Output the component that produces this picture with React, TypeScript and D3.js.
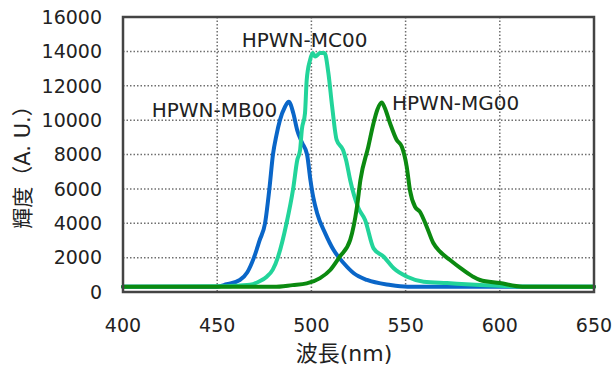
import React from "react";
import * as d3 from "d3";

const xTicks = [400, 450, 500, 550, 600, 650];
const yTicks = [0, 2000, 4000, 6000, 8000, 10000, 12000, 14000, 16000];

const mbWavelength = [400, 440, 450, 455, 462, 466, 469.5, 472.5, 475.4, 477.7, 479.6, 481.4, 483.3, 486, 488, 490.4, 492.5, 495, 497.7, 499.5, 501, 503, 507.4, 511.8, 517.2, 522.5, 529.5, 542, 551, 560, 650];
const mbIntensity = [300, 300, 310, 450, 700, 1150, 2000, 3000, 4000, 6000, 8000, 9100, 10000, 10780, 11070, 10400, 9400, 8700, 8000, 6500, 5500, 4600, 3400, 2440, 1670, 1090, 700, 410, 310, 300, 300];

const mcWavelength = [400, 455, 462, 467.4, 472, 476.3, 479.5, 482.3, 486.8, 490.3, 492.5, 494, 494.9, 496.6, 497.5, 499.3, 500.7, 502, 504.6, 507, 509, 511, 513.4, 516.8, 518.4, 520.6, 525, 528.5, 533, 538.4, 543.7, 550.8, 559.6, 572, 589.5, 611, 650];
const mcIntensity = [300, 330, 380, 420, 600, 890, 1300, 2050, 4000, 6000, 7680, 8260, 9425, 10400, 12330, 13500, 13900, 13700, 13900, 13900, 12750, 10800, 8850, 8260, 7680, 6500, 4870, 4190, 2540, 2050, 1380, 890, 600, 520, 410, 320, 300];

const mgWavelength = [400, 480, 490, 497.5, 504.6, 510, 515, 520.6, 524.2, 526, 530.2, 533, 535, 537.3, 539, 541.7, 545.3, 548, 550.6, 552.3, 555, 557.6, 561.2, 564.7, 568.3, 573.6, 579, 585.8, 589.5, 600, 612, 650];
const mgIntensity = [300, 300, 400, 500, 810, 1280, 2050, 3030, 4960, 6500, 8450, 9830, 10600, 11020, 10700, 9830, 8840, 8450, 7290, 5930, 4960, 4670, 3800, 2850, 2345, 1860, 1400, 890, 700, 520, 310, 300];

const seriesNames = ["HPWN-MB00", "HPWN-MC00", "HPWN-MG00"];
const seriesColors = ["#0a66c8", "#22d49a", "#0b8a10"];

const W = 614;
const H = 367;
const left = 123, right = 594, top = 17, bottom = 292;
const font = "'DejaVu Sans', 'Noto Sans CJK JP', sans-serif";

export default function App() {
  const x = d3.scaleLinear().domain([400, 650]).range([left, right]);
  const y = d3.scaleLinear().domain([0, 16000]).range([bottom, top]);
  const line = d3
    .line<[number, number]>()
    .x((d) => x(d[0]))
    .y((d) => y(d[1]))
    .curve(d3.curveMonotoneX);

  const series = [
    { name: seriesNames[0], color: seriesColors[0], data: mbWavelength.map((w, i) => [w, mbIntensity[i]] as [number, number]), lx: 151.7, ly: 117 },
    { name: seriesNames[1], color: seriesColors[1], data: mcWavelength.map((w, i) => [w, mcIntensity[i]] as [number, number]), lx: 241.7, ly: 46.7 },
    { name: seriesNames[2], color: seriesColors[2], data: mgWavelength.map((w, i) => [w, mgIntensity[i]] as [number, number]), lx: 392, ly: 110 },
  ];

  return (
    <svg width={W} height={H} style={{ position: "absolute", left: 0, top: 0, background: "#fff" }} fontFamily={font}>
      <rect x={0} y={0} width={W} height={H} fill="#fff" />
      {xTicks.slice(1, -1).map((t) => (
        <line key={"gx" + t} x1={x(t)} x2={x(t)} y1={top} y2={bottom} stroke="#6f6f6f" strokeWidth={1.5} strokeDasharray="1.5,2" />
      ))}
      {yTicks.slice(1, -1).map((t) => (
        <line key={"gy" + t} x1={left} x2={right} y1={y(t)} y2={y(t)} stroke="#6f6f6f" strokeWidth={1.5} strokeDasharray="1.5,2" />
      ))}
      {series.map((s) => (
        <path key={s.name} d={line(s.data) || ""} fill="none" stroke={s.color} strokeWidth={4} strokeLinejoin="round" strokeLinecap="round" />
      ))}
      <rect x={left} y={top} width={right - left} height={bottom - top} fill="none" stroke="#444" strokeWidth={2.5} />
      {yTicks.map((t) => (
        <text key={"yt" + t} x={102} y={y(t)} dy="0.36em" textAnchor="end" fontSize={19} fill="#222">
          {t}
        </text>
      ))}
      {xTicks.map((t) => (
        <text key={"xt" + t} x={x(t)} y={332} textAnchor="middle" fontSize={19} fill="#222">
          {t}
        </text>
      ))}
      {series.map((s) => (
        <text key={"l" + s.name} x={s.lx} y={s.ly} fontSize={20} fill="#222">
          {s.name}
        </text>
      ))}
      <text x={344} y={361} textAnchor="middle" fontSize={22} fill="#222">
        波長(nm)
      </text>
      <text transform="translate(30,162) rotate(-90)" textAnchor="middle" fontSize={21} fill="#222">
        輝度（A. U.）
      </text>
    </svg>
  );
}
